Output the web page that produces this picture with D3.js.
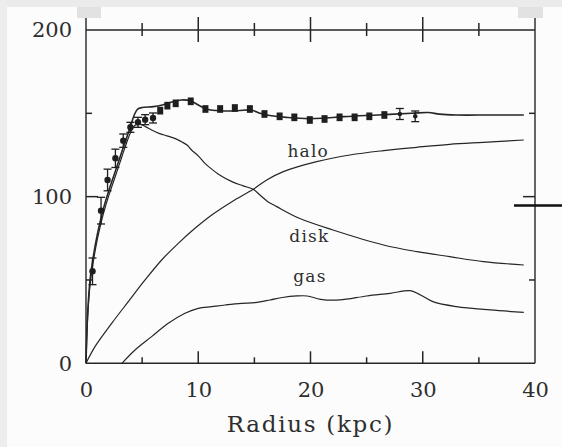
<!DOCTYPE html>
<html>
<head>
<meta charset="utf-8">
<script src="https://cdn.jsdelivr.net/npm/d3@7"></script>
<style>
  html, body { margin: 0; padding: 0; background: #fcfcfc; }
  svg { display: block; }
  text { font-family: "DejaVu Serif", "Liberation Serif", serif; fill: #2e2e2e; }
</style>
</head>
<body>
<svg id="chart" width="562" height="447"></svg>
<script>
// ---------------- data ----------------
const xTickLabels = [0, 10, 20, 30, 40];
const xMinorTicks = [5, 15, 25, 35];
const yTickLabels = [0, 100, 200];
const yMinorTicks = [50, 150];
const xTitle = "Radius (kpc)";

const obsRadius   = [0.58, 1.34, 1.92, 2.62, 3.32, 3.96, 4.63, 5.27, 5.97,
                     6.61, 7.25, 7.99, 9.33, 10.64, 11.95, 13.26, 14.6, 15.9,
                     17.25, 18.56, 19.94, 21.25, 22.59, 23.93, 25.24, 26.58, 27.96, 29.33];
const obsVelocity = [55.2, 91.6, 110, 123, 133.6, 141.6, 144.6, 146.2, 147.2,
                     151.6, 154.6, 156, 157.2, 152.6, 152.6, 153.2, 152.6, 149.6,
                     148.2, 147.6, 146, 146.6, 147.6, 147.6, 148.2, 149, 149.6, 148.2];
const obsError    = [8, 8, 6.5, 5.5, 4, 3, 3, 3, 3,
                     2.3, 2.3, 2.3, 2.3, 2.3, 2.3, 2.3, 2.3, 2.3,
                     2.3, 2.3, 2.3, 2.3, 2.3, 2.3, 2.3, 2.3, 3.3, 3.2];

const totalR = [0, 0.15, 0.36, 0.65, 1.0, 1.3, 1.6, 2.0, 2.5, 3.0, 3.5, 4.0, 4.3, 4.6, 5.0, 6.0, 6.8, 7.5, 8.5, 9.3, 10.0, 10.8, 12.0, 13.5, 14.7, 15.5, 16.5, 18.0, 19.8, 21.0, 23.0, 26.0, 29.0, 30.5, 31.5, 33.0, 36.0, 39.0];
const totalV = [0, 30, 50, 64, 77, 86, 94, 103, 113, 123, 133, 143, 149, 152.5, 153.5, 154, 155, 156.5, 158, 157.5, 155, 152.5, 151.5, 151.5, 152, 150, 148.5, 147.5, 146.8, 147, 148, 149, 150, 150.5, 149.5, 149, 149, 149];

const diskR = [0, 0.15, 0.36, 0.65, 1.0, 1.3, 1.6, 2.0, 2.5, 3.0, 3.5, 4.0, 4.4, 4.8, 5.3, 5.85, 6.5, 7.2, 7.9, 8.5, 9.0, 9.4, 10.0, 10.6, 11.2, 11.8, 13.0, 14.0, 14.9, 15.5, 16.2, 17.0, 19.0, 22.0, 26.5, 29.5, 32.4, 35.4, 39.0];
const diskV = [0, 28, 47, 61, 74, 83, 91, 100, 110, 120, 130, 139, 143, 143.5, 142, 140, 138, 136.5, 135, 133, 131, 128, 124.5, 120, 116.5, 113.5, 109, 106.5, 104.4, 101, 97, 94, 87, 80, 71, 67, 64, 61, 59];

const haloR = [0, 0.8, 2.29, 3.77, 5.26, 6.74, 8.22, 9.71, 11.2, 13.0, 14.9, 16.1, 17.58, 20.55, 23.52, 26.5, 29.46, 32.4, 35.4, 39.0];
const haloV = [0, 10, 24, 37, 50, 62, 72, 81, 89, 97, 104.4, 110, 115, 121, 125, 127.6, 129.6, 131.4, 132.6, 134];

const gasR = [3.2, 4.37, 5.85, 7.33, 8.82, 10.0, 11.2, 12.4, 13.87, 15.06, 16.4, 17.5, 18.8, 19.7, 20.9, 22.6, 25.0, 27.1, 28.9, 29.8, 30.9, 33.0, 36.0, 39.0];
const gasV = [0, 8, 16, 24, 30, 33, 34, 35, 36, 36.4, 38, 39.5, 40.4, 40.4, 38.4, 38, 40.4, 42, 43.6, 41, 37, 34, 32, 30.6];

const curveLabels = ["halo", "disk", "gas"];
const curveLabelPos = [[19.8, 124], [19.9, 73], [19.95, 48.8]];

// ---------------- drawing ----------------
const svg = d3.select("#chart");
const ink = "#262626";

svg.append("rect").attr("x", 0).attr("y", 0).attr("width", 562).attr("height", 447).attr("fill", "#fcfcfc");
svg.append("rect").attr("x", 0).attr("y", 0).attr("width", 562).attr("height", 7).attr("fill", "#ebebeb");
svg.append("rect").attr("x", 0).attr("y", 0).attr("width", 7).attr("height", 447).attr("fill", "#ededed");
svg.append("rect").attr("x", 77).attr("y", 7).attr("width", 24).attr("height", 11).attr("fill", "#e2e2e2");
svg.append("rect").attr("x", 518).attr("y", 7).attr("width", 25).attr("height", 11).attr("fill", "#e2e2e2");

const xs = d3.scaleLinear().domain([0, 40]).range([86, 535]);
const ys = d3.scaleLinear().domain([0, 200]).range([363.3, 30]);

const frame = svg.append("g").attr("stroke", ink).attr("stroke-width", 1.4).attr("fill", "none");
frame.append("line").attr("x1", xs(0)).attr("x2", xs(40)).attr("y1", ys(0)).attr("y2", ys(0));
frame.append("line").attr("x1", xs(0)).attr("x2", xs(40)).attr("y1", ys(200)).attr("y2", ys(200));
frame.append("line").attr("x1", xs(0)).attr("x2", xs(0)).attr("y1", 18).attr("y2", ys(0));
frame.append("line").attr("x1", xs(40)).attr("x2", xs(40)).attr("y1", 18).attr("y2", ys(0));

const bottom = svg.append("g").attr("transform", `translate(0,${ys(0)})`)
  .call(d3.axisBottom(xs).tickValues(xTickLabels).tickSize(0).tickSizeOuter(0).tickFormat(d3.format("d")));
bottom.select(".domain").remove();
bottom.selectAll(".tick line").remove();
bottom.selectAll(".tick text").attr("font-size", 21).attr("font-family", "DejaVu Serif")
  .attr("fill", "#2e2e2e").attr("y", 19).attr("dy", "0.71em");

const left = svg.append("g").attr("transform", `translate(${xs(0)},0)`)
  .call(d3.axisLeft(ys).tickValues(yTickLabels).tickSize(0).tickPadding(14).tickFormat(d3.format("d")));
left.select(".domain").remove();
left.selectAll("text").attr("font-size", 21).attr("font-family", "DejaVu Serif").attr("fill", "#2e2e2e");

svg.append("text").attr("x", (xs(0) + xs(40)) / 2).attr("y", 432)
  .attr("text-anchor", "middle").attr("font-size", 23).attr("letter-spacing", 1.7).text(xTitle);

const line = d3.line().x(d => xs(d[0])).y(d => ys(d[1])).curve(d3.curveCatmullRom.alpha(0.5));
const curves = [d3.zip(haloR, haloV), d3.zip(diskR, diskV), d3.zip(gasR, gasV), d3.zip(totalR, totalV)];
svg.append("g").selectAll("path").data(curves).join("path")
  .attr("d", line).attr("fill", "none").attr("stroke", ink)
  .attr("stroke-width", (d, i) => i === 3 ? 1.6 : 1.2);

svg.append("g").selectAll("text").data(curveLabels).join("text")
  .attr("x", (d, i) => xs(curveLabelPos[i][0]))
  .attr("y", (d, i) => ys(curveLabelPos[i][1]))
  .attr("text-anchor", "middle").attr("font-size", 17).attr("letter-spacing", 1.2)
  .text(d => d);

const obs = d3.range(obsRadius.length).map(i => ({ r: obsRadius[i], v: obsVelocity[i], e: obsError[i] }));
const g = svg.append("g").attr("stroke", "#1e1e1e").attr("fill", "#1e1e1e");
const bars = obs.filter(d => d.e >= 3);
g.selectAll("line.bar").data(bars).join("line").attr("class", "bar")
  .attr("x1", d => xs(d.r)).attr("x2", d => xs(d.r))
  .attr("y1", d => ys(d.v - d.e)).attr("y2", d => ys(d.v + d.e)).attr("stroke-width", 1.3);
g.selectAll("line.capLo").data(bars).join("line").attr("class", "capLo")
  .attr("x1", d => xs(d.r) - 4).attr("x2", d => xs(d.r) + 4)
  .attr("y1", d => ys(d.v - d.e)).attr("y2", d => ys(d.v - d.e)).attr("stroke-width", 1.3);
g.selectAll("line.capHi").data(bars).join("line").attr("class", "capHi")
  .attr("x1", d => xs(d.r) - 4).attr("x2", d => xs(d.r) + 4)
  .attr("y1", d => ys(d.v + d.e)).attr("y2", d => ys(d.v + d.e)).attr("stroke-width", 1.3);
g.selectAll("circle").data(bars).join("circle")
  .attr("cx", d => xs(d.r)).attr("cy", d => ys(d.v))
  .attr("r", d => d.r > 20 ? 2.2 : 3.2).attr("stroke", "none");
g.selectAll("rect").data(obs.filter(d => d.e < 3)).join("rect")
  .attr("x", d => xs(d.r) - 3).attr("width", 6)
  .attr("y", d => ys(d.v + d.e)).attr("height", d => ys(d.v - d.e) - ys(d.v + d.e))
  .attr("stroke", "none");

svg.append("line").attr("x1", 514).attr("x2", 562).attr("y1", 205.5).attr("y2", 205.5)
  .attr("stroke", "#111").attr("stroke-width", 2.6);

// ---- tick marks ----
const xMajorInner = xTickLabels.filter(d => d > 0 && d < 40);
const yMajorInner = yTickLabels.filter(d => d > 0 && d < 200);
const tickSpecs = [];
xMajorInner.forEach(d => {
  tickSpecs.push({ x1: xs(d), x2: xs(d), y1: ys(0) - 12, y2: ys(0) });
  tickSpecs.push({ x1: xs(d), x2: xs(d), y1: ys(200) - 13, y2: ys(200) + 12 });
});
xMinorTicks.forEach(d => {
  tickSpecs.push({ x1: xs(d), x2: xs(d), y1: ys(0) - 6, y2: ys(0) });
  tickSpecs.push({ x1: xs(d), x2: xs(d), y1: ys(200) - 7, y2: ys(200) + 6 });
});
yMajorInner.forEach(d => {
  tickSpecs.push({ x1: xs(0), x2: xs(0) + 12, y1: ys(d), y2: ys(d) });
  tickSpecs.push({ x1: xs(40) - 12, x2: xs(40), y1: ys(d), y2: ys(d) });
});
yMinorTicks.forEach(d => {
  tickSpecs.push({ x1: xs(0), x2: xs(0) + 6, y1: ys(d), y2: ys(d) });
  tickSpecs.push({ x1: xs(40) - 6, x2: xs(40), y1: ys(d), y2: ys(d) });
});
svg.append("g").attr("class", "ticks").selectAll("line").data(tickSpecs).join("line")
  .attr("x1", d => d.x1).attr("x2", d => d.x2).attr("y1", d => d.y1).attr("y2", d => d.y2)
  .attr("stroke", ink).attr("stroke-width", 1.5);
</script>
</body>
</html>
